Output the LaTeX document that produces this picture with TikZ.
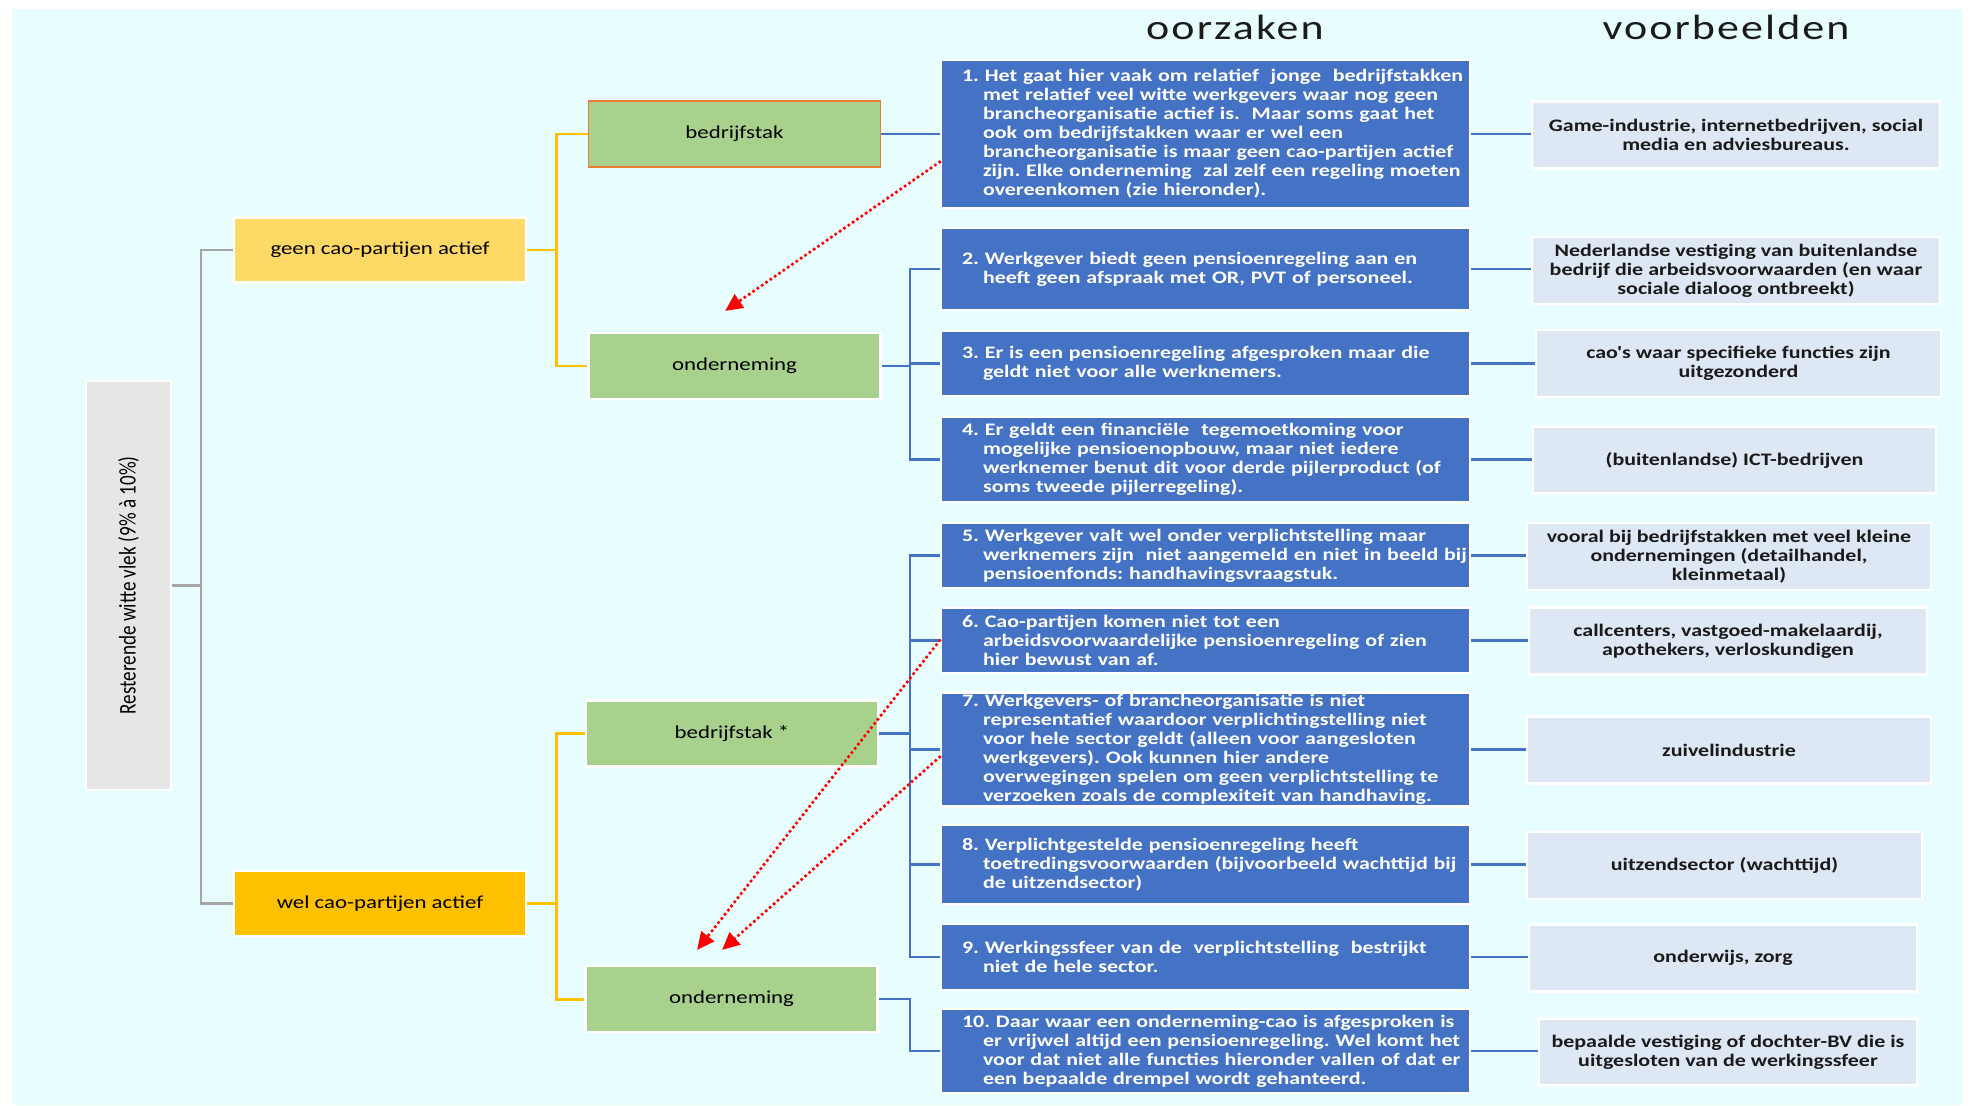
\documentclass[tikz,border=0pt]{standalone}
\usepackage{fontspec}
\setmainfont{Carlito}
\newfontfamily\boxfamily{Carlito}[FakeStretch=1.25]
\newfontfamily\headfamily{Carlito}[FakeStretch=1.25,LetterSpace=6]
\usetikzlibrary{arrows.meta,calc}

\definecolor{bgcyan}{HTML}{E8FDFD}
\definecolor{rootgray}{HTML}{E7E6E6}
\definecolor{geenyellow}{HTML}{FFD966}
\definecolor{welyellow}{HTML}{FFC000}
\definecolor{levelgreen}{HTML}{A9D18E}
\definecolor{causeblue}{HTML}{4472C4}
\definecolor{examplefill}{HTML}{DEE7F4}
\definecolor{edgeorange}{HTML}{ED7D31}
\definecolor{linkgray}{HTML}{A5A5A5}
\definecolor{darktext}{HTML}{1A1A1A}

\newcommand{\px}{0.02cm}
\newcommand{\headfont}{\headfamily\fontsize{20}{22}\selectfont}
\newcommand{\branchfont}{\boxfamily\fontsize{10.4}{12}\selectfont}
\newcommand{\causefont}{\boxfamily\bfseries\fontsize{10}{10.8}\selectfont\frenchspacing}
\newcommand{\rootfont}{\fontsize{10.9}{12}\selectfont}
% first line at the margin, the others hang under it
\newcommand{\causetext}[1]{\noindent\leftskip=0.42cm\hangindent=0.42cm\hangafter=1\rightskip=-0.8cm plus 1fil\relax #1\par}
\hfuzz=60pt

\begin{document}
\begin{tikzpicture}[x=0.02cm, y=-0.02cm,
	base box/.style={rectangle, draw=white, line width=1.5pt, inner sep=1pt},
	root node/.style={base box, fill=rootgray, minimum width=85*\px, minimum height=409*\px, font=\rootfont},
	party node/.style={base box, minimum width=292*\px, minimum height=65*\px, font=\branchfont},
	level node/.style={base box, fill=levelgreen, minimum width=292*\px, minimum height=66*\px, font=\branchfont},
	cause node/.style={base box, fill=causeblue, text=white, text width=529*\px, inner xsep=0pt, align=left, font=\causefont},
	example node/.style={base box, fill=examplefill, text=darktext, align=center, minimum height=67*\px, font=\causefont},
	head node/.style={font=\headfont, text=darktext, anchor=base},
	gray link/.style={draw=linkgray, line width=1.7pt},
	yellow link/.style={draw=welyellow, line width=1.7pt},
	blue link/.style={draw=causeblue, line width=1.6pt},
	hint arrow/.style={draw=red, line width=2.1pt, line cap=round, dash pattern=on 0pt off 3pt, -{Triangle[length=10pt,width=9pt]}}
	]

	\useasboundingbox (0,0) rectangle (1973,1105);
	\fill[bgcyan] (12,9) rectangle (1963,1105);

	% column titles
	\node[head node] (hcause) at (1235,40) {oorzaken};
	\node[head node] (hexample) at (1726,40) {voorbeelden};

	% tree
	\node[root node] (root) at (128.5,585.5) {\rotatebox{90}{\scalebox{1}[1.25]{Resterende witte vlek (9\% à 10\%)}}};
	\node[party node, fill=geenyellow] (geen) at (380,250) {geen cao-partijen actief};
	\node[party node, fill=welyellow] (wel) at (380,903.5) {wel cao-partijen actief};

	\node[level node, draw=edgeorange, line width=1pt] (bedr1) at (734.5,134) {bedrijfstak};
	\node[level node] (ond1) at (734.5,366) {onderneming};
	\node[level node] (bedr2) at (732,733.5) {bedrijfstak *};
	\node[level node] (ond2) at (731.5,999) {onderneming};

	% oorzaken
	\node[cause node, minimum height=148*\px] (c1) at (1205.5,134) {\causetext{%
		1. Het gaat hier vaak om relatief\ \ jonge\ \ bedrijfstakken\newline
		met relatief veel witte werkgevers waar nog geen\newline
		brancheorganisatie actief is.\ \ Maar soms gaat het\newline
		ook om bedrijfstakken waar er wel een\newline
		brancheorganisatie is maar geen cao-partijen actief\newline
		zijn. Elke onderneming\ \ zal zelf een regeling moeten\newline
		overeenkomen (zie hieronder).}};
	\node[cause node, minimum height=82*\px] (c2) at (1205.5,269) {\causetext{%
		2. Werkgever biedt geen pensioenregeling aan en\newline
		heeft geen afspraak met OR, PVT of personeel.}};
	\node[cause node, minimum height=65*\px] (c3) at (1205.5,363.5) {\causetext{%
		3. Er is een pensioenregeling afgesproken maar die\newline
		geldt niet voor alle werknemers.}};
	\node[cause node, minimum height=85*\px] (c4) at (1205.5,459.5) {\causetext{%
		4. Er geldt een financiële\ \ tegemoetkoming voor\newline
		mogelijke pensioenopbouw, maar niet iedere\newline
		werknemer benut dit voor derde pijlerproduct (of\newline
		soms tweede pijlerregeling).}};
	\node[cause node, minimum height=65*\px] (c5) at (1205.5,555.5) {\causetext{%
		5. Werkgever valt wel onder verplichtstelling maar\newline
		werknemers zijn\ \ niet aangemeld en niet in beeld bij\newline
		pensioenfonds: handhavingsvraagstuk.}};
	\node[cause node, minimum height=65*\px] (c6) at (1205.5,640.5) {\causetext{%
		6. Cao-partijen komen niet tot een\newline
		arbeidsvoorwaardelijke pensioenregeling of zien\newline
		hier bewust van af.}};
	\node[cause node, minimum height=113*\px] (c7) at (1205.5,749.5) {\causetext{%
		7. Werkgevers- of brancheorganisatie is niet\newline
		representatief waardoor verplichtingstelling niet\newline
		voor hele sector geldt (alleen voor aangesloten\newline
		werkgevers). Ook kunnen hier andere\newline
		overwegingen spelen om geen verplichtstelling te\newline
		verzoeken zoals de complexiteit van handhaving.}};
	\node[cause node, minimum height=79*\px] (c8) at (1205.5,864.5) {\causetext{%
		8. Verplichtgestelde pensioenregeling heeft\newline
		toetredingsvoorwaarden (bijvoorbeeld wachttijd bij\newline
		de uitzendsector)}};
	\node[cause node, minimum height=66*\px] (c9) at (1205.5,957) {\causetext{%
		9. Werkingssfeer van de\ \ verplichtstelling\ \ bestrijkt\newline
		niet de hele sector.}};
	\node[cause node, minimum height=84*\px] (c10) at (1205.5,1051) {\causetext{%
		10. Daar waar een onderneming-cao is afgesproken is\newline
		er vrijwel altijd een pensioenregeling. Wel komt het\newline
		voor dat niet alle functies hieronder vallen of dat er\newline
		een bepaalde drempel wordt gehanteerd.}};

	% voorbeelden
	\node[example node, minimum width=408*\px] (e1) at (1736,135) {Game-industrie, internetbedrijven, social\\media en adviesbureaus.};
	\node[example node, minimum width=408*\px] (e2) at (1736,270.5) {Nederlandse vestiging van buitenlandse\\bedrijf die arbeidsvoorwaarden (en waar\\sociale dialoog ontbreekt)};
	\node[example node, minimum width=405*\px] (e3) at (1738.5,363.5) {cao's waar specifieke functies zijn\\uitgezonderd};
	\node[example node, minimum width=403*\px] (e4) at (1734.5,460) {(buitenlandse) ICT-bedrijven};
	\node[example node, minimum width=404*\px] (e5) at (1729,556.5) {vooral bij bedrijfstakken met veel kleine\\ondernemingen (detailhandel,\\kleinmetaal)};
	\node[example node, minimum width=398*\px] (e6) at (1728,641) {callcenters, vastgoed-makelaardij,\\apothekers, verloskundigen};
	\node[example node, minimum width=404*\px] (e7) at (1729,750) {zuivelindustrie};
	\node[example node, minimum width=395*\px] (e8) at (1724.5,865.5) {uitzendsector (wachttijd)};
	\node[example node, minimum width=388*\px] (e9) at (1723,958) {onderwijs, zorg};
	\node[example node, minimum width=378*\px] (e10) at (1728,1052) {bepaalde vestiging of dochter-BV die is\\uitgesloten van de werkingssfeer};

	% forks
	\coordinate (rootfork) at (201,585.5);
	\coordinate (geenfork) at (556,250);
	\coordinate (welfork) at (556,903.5);
	\coordinate (ond1fork) at (910,366);
	\coordinate (bedr2fork) at (910,733.5);
	\coordinate (ond2fork) at (910,999);

	\draw[gray link] (root.east) -- (rootfork) |- (geen.west);
	\draw[gray link] (rootfork) |- (wel.west);

	\draw[yellow link] (geen.east) -- (geenfork) |- (bedr1.west);
	\draw[yellow link] (geenfork) |- (ond1.west);
	\draw[yellow link] (wel.east) -- (welfork) |- (bedr2.west);
	\draw[yellow link] (welfork) |- (ond2.west);

	\draw[blue link] (bedr1.east) -- (c1.west);
	\draw[blue link] (ond1.east) -- (ond1fork);
	\foreach \c in {c2,c3,c4}
		\draw[blue link] (ond1fork) |- (\c.west);
	\draw[blue link] (bedr2.east) -- (bedr2fork);
	\foreach \c in {c5,c6,c7,c8,c9}
		\draw[blue link] (bedr2fork) |- (\c.west);
	\draw[blue link] (ond2.east) -- (ond2fork) |- (c10.west);

	\foreach \i in {1,...,10}
		\draw[blue link] (c\i.east) -- (c\i.east -| e\i.west);

	% verwijzingen naar onderneming
	\coordinate (tip1) at (725,311);
	\coordinate (tip2) at (697,950);
	\coordinate (tip3) at (722,950);
	\draw[hint arrow] ($(c1.west)+(0,28)$) -- (tip1);
	\draw[hint arrow] (c6.west) -- (tip2);
	\draw[hint arrow] ($(c7.west)+(0,7.5)$) -- (tip3);
\end{tikzpicture}
\end{document}
